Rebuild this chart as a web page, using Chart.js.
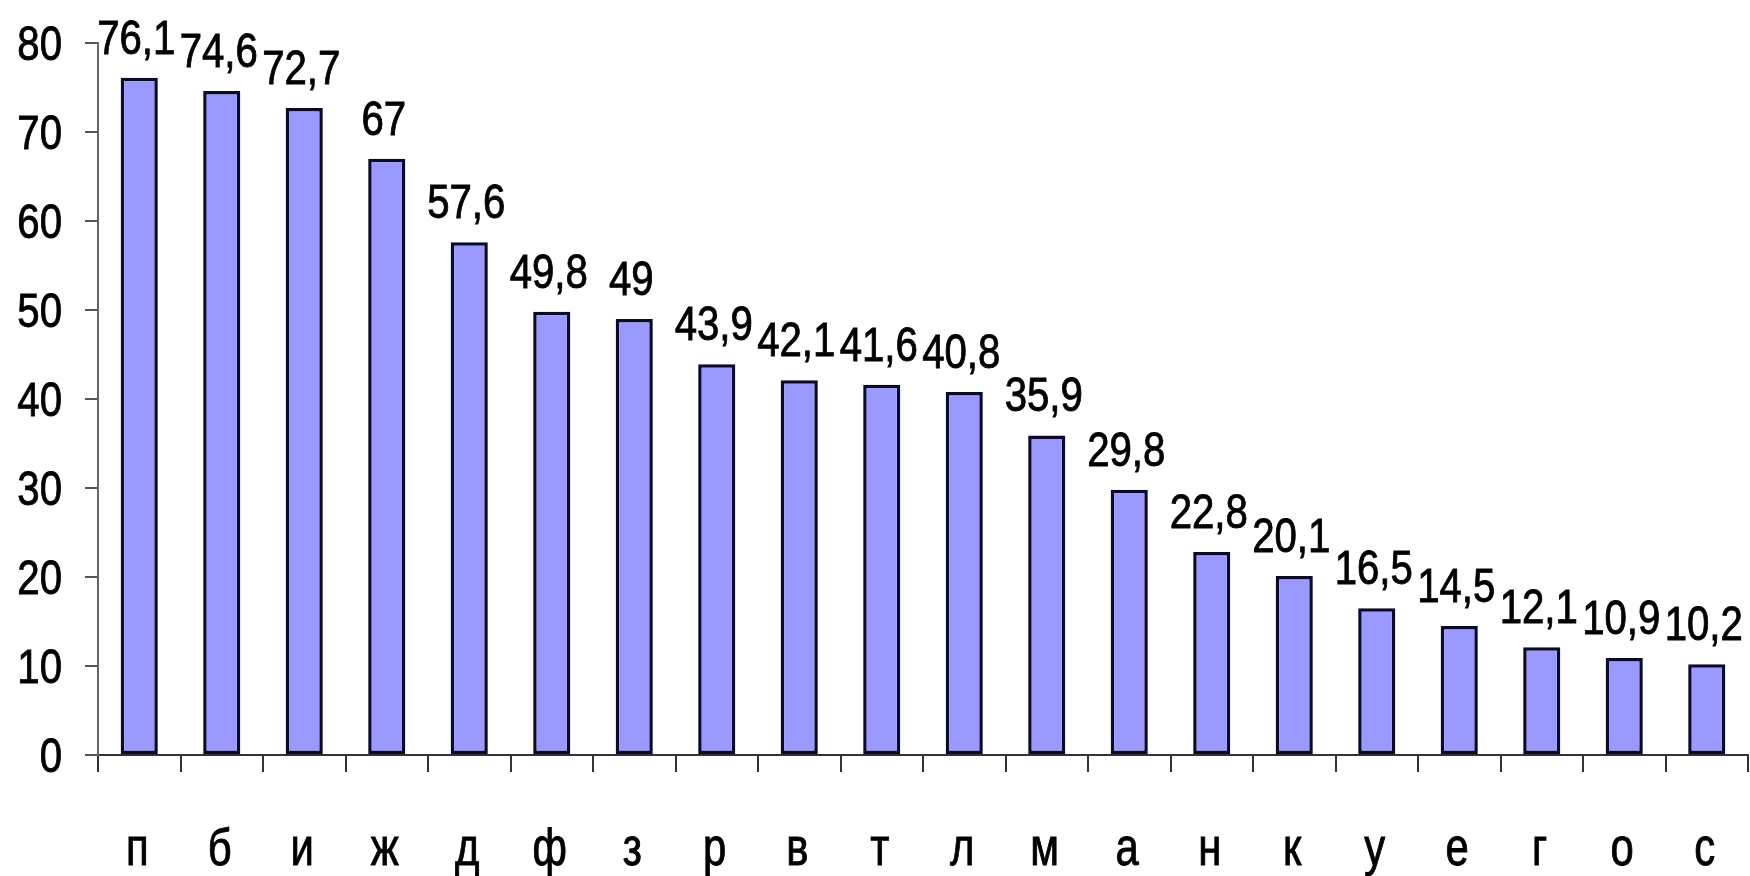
<!DOCTYPE html>
<html>
<head>
<meta charset="utf-8">
<script src="https://cdn.jsdelivr.net/npm/chart.js@4.4.0/dist/chart.umd.min.js"></script>
<style>
html,body{margin:0;padding:0;background:#fff;overflow:hidden;}
#wrap{width:1750px;height:876px;position:relative;}
canvas{display:block;}
</style>
</head>
<body>
<div id="wrap"><canvas id="c"></canvas></div>
<script>
const categories = ['п','б','и','ж','д','ф','з','р','в','т','л','м','а','н','к','у','е','г','о','с'];
const values = [76.1, 74.6, 72.7, 67, 57.6, 49.8, 49, 43.9, 42.1, 41.6, 40.8, 35.9, 29.8, 22.8, 20.1, 16.5, 14.5, 12.1, 10.9, 10.2];
const yTicks = [0, 10, 20, 30, 40, 50, 60, 70, 80];

const FONT = "'Liberation Sans', Arial, sans-serif";
const NARROW = 0.82; // emulate a narrow Arial-like face

function narrowText(ctx, txt, x, y, size, align) {
  ctx.save();
  ctx.font = size + 'px ' + FONT;
  ctx.fillStyle = '#000';
  ctx.strokeStyle = '#000';
  ctx.lineWidth = 0.9;
  ctx.textBaseline = 'alphabetic';
  ctx.textAlign = align;
  ctx.translate(x, y);
  ctx.scale(NARROW, 1);
  ctx.fillText(txt, 0, 0);
  ctx.strokeText(txt, 0, 0);
  ctx.restore();
}

const textPlugin = {
  id: 'textPlugin',
  afterDraw(chart) {
    const ctx = chart.ctx;
    const xs = chart.scales.x, ys = chart.scales.y;
    yTicks.forEach(v => {
      const py = ys.getPixelForValue(v);
      narrowText(ctx, String(v), 62, py + 17, 49, 'right');
    });
    categories.forEach((c, i) => {
      const px = xs.getPixelForValue(i);
      narrowText(ctx, c, px - 2, 865, 51, 'center');
    });
    const meta = chart.getDatasetMeta(0);
    meta.data.forEach((bar, i) => {
      const txt = String(values[i]).replace('.', ',');
      narrowText(ctx, txt, bar.x - 3, bar.y - 24, 49, 'center');
    });
  }
};

new Chart(document.getElementById('c'), {
  type: 'bar',
  data: {
    labels: categories,
    datasets: [{
      data: values,
      backgroundColor: '#9999FF',
      borderColor: '#0a0a2a',
      borderWidth: 3.5,
      borderSkipped: false,
      categoryPercentage: 1,
      barPercentage: 0.45
    }]
  },
  options: {
    responsive: true,
    maintainAspectRatio: false,
    animation: false,
    devicePixelRatio: 1,
    layout: { padding: { top: 43, right: 2, left: 0, bottom: 0 } },
    plugins: { legend: { display: false }, tooltip: { enabled: false } },
    scales: {
      x: {
        offset: true,
        afterFit: s => { s.height = 121; },
        border: { display: true, color: '#333', width: 2 },
        grid: { display: true, offset: true, drawOnChartArea: false, drawTicks: true, tickLength: 17, color: '#333', lineWidth: 2 },
        ticks: { display: false, autoSkip: false }
      },
      y: {
        min: 0, max: 80,
        afterFit: s => { s.width = 98; },
        afterBuildTicks: s => { s.ticks = yTicks.map(v => ({ value: v })); },
        border: { display: true, color: '#666', width: 2 },
        grid: { display: true, drawOnChartArea: false, drawTicks: true, tickLength: 13, color: '#555', lineWidth: 2 },
        ticks: { display: false }
      }
    }
  },
  plugins: [textPlugin]
});
</script>
</body>
</html>
